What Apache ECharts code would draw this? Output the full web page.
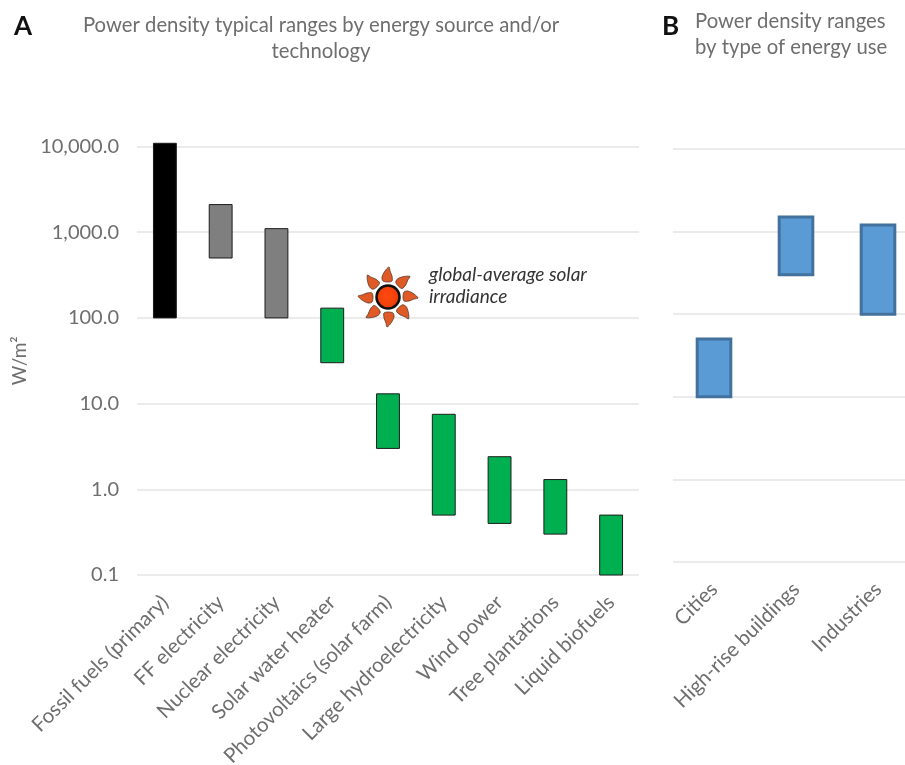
<!DOCTYPE html>
<html>
<head>
<meta charset="utf-8">
<style>html,body{margin:0;padding:0;background:#fff;overflow:hidden}#chart{width:905px;height:765px}</style>
<script src="https://cdn.jsdelivr.net/npm/echarts@6/dist/echarts.min.js"></script>
</head>
<body>
<div id="chart"></div>
<script>
const sources = ['Fossil fuels (primary)', 'FF electricity', 'Nuclear electricity', 'Solar water heater', 'Photovoltaics (solar farm)', 'Large hydroelectricity', 'Wind power', 'Tree plantations', 'Liquid biofuels']
const sourceLow = [100, 500, 100, 30, 3, 0.5, 0.4, 0.3, 0.1]
const sourceHigh = [10900, 2100, 1100, 130, 13, 7.5, 2.4, 1.3, 0.5]
const uses = ['Cities', 'High-rise buildings', 'Industries']
const useLow = [10, 300, 100]
const useHigh = [50, 1500, 1200]

const sourceColors = ['#000000', '#7f7f7f', '#7f7f7f', '#00b050', '#00b050', '#00b050', '#00b050', '#00b050', '#00b050']
const FONT = 'Lato'
const GREY = '#6e6e6e'

function rangeBars(widthRatio, styleFor) {
  return (params, api) => {
    const x = api.value(0)
    const low = api.coord([x, api.value(1)])
    const high = api.coord([x, api.value(2)])
    const w = api.size([1, 0])[0] * widthRatio
    return {
      type: 'rect',
      shape: { x: low[0] - w / 2, y: high[1], width: w, height: low[1] - high[1] },
      style: styleFor(params.dataIndex),
    }
  }
}

function axisX(gridIndex, data) {
  return {
    type: 'category', gridIndex, data,
    axisLine: { show: false }, axisTick: { show: false },
    axisLabel: { rotate: 45, interval: 0, margin: 24, padding: [14, 0, 0, 0], color: GREY, fontFamily: FONT, fontSize: 20.5 },
  }
}

function axisY(gridIndex, showLabels) {
  return {
    type: 'log', logBase: 10, gridIndex, min: 0.1, max: 10000,
    name: showLabels ? 'W/m²' : '', nameLocation: 'middle', nameGap: 94, nameRotate: 90,
    nameTextStyle: { color: GREY, fontFamily: FONT, fontSize: 19 },
    axisLine: { show: false }, axisTick: { show: false },
    splitLine: { show: true, lineStyle: { color: '#e5e5e5', width: 1.5 } },
    axisLabel: {
      show: showLabels, margin: 18, color: GREY, fontFamily: FONT, fontSize: 20,
      formatter: (v) => Number(v).toLocaleString('en-US', { minimumFractionDigits: 1, maximumFractionDigits: 1 }),
    },
  }
}

function titleText(text, left, top) {
  return { text, left, top, textStyle: { color: GREY, fontFamily: FONT, fontSize: 20.3, fontWeight: 'normal', lineHeight: 26 } }
}

const option = {
  animation: false,
  backgroundColor: '#ffffff',
  title: [
    { text: 'A', left: 9, top: 9, textStyle: { color: '#111', fontFamily: FONT, fontSize: 26, fontWeight: 'bold' } },
    { text: 'B', left: 657, top: 9, textStyle: { color: '#111', fontFamily: FONT, fontSize: 26, fontWeight: 'bold' } },
    { ...titleText('Power density typical ranges by energy source and/or\ntechnology', 316, 7), textAlign: 'center' },
    titleText('Power density ranges\nby type of energy use', 690, 3),
  ],
  grid: [
    { left: 137, top: 146.5, width: 502, height: 428.5, outerBoundsMode: 'none' },
    { left: 673, top: 149, width: 246, height: 413, outerBoundsMode: 'none' },
  ],
  xAxis: [axisX(0, sources), axisX(1, uses)],
  yAxis: [axisY(0, true), axisY(1, false)],
  series: [
    {
      type: 'custom', xAxisIndex: 0, yAxisIndex: 0, clip: false,
      encode: { x: 0, y: [1, 2] },
      data: sources.map((_, i) => [i, sourceLow[i], sourceHigh[i]]),
      renderItem: rangeBars(0.41, (i) => ({ fill: sourceColors[i], stroke: '#1c1c1c', lineWidth: 1 })),
    },
    {
      type: 'custom', xAxisIndex: 1, yAxisIndex: 1, clip: false,
      encode: { x: 0, y: [1, 2] },
      data: uses.map((_, i) => [i, useLow[i], useHigh[i]]),
      renderItem: rangeBars(0.41, () => ({ fill: '#5b9bd5', stroke: '#41719c', lineWidth: 3 })),
    },
  ],
}

const chart = echarts.init(document.getElementById('chart'))
chart.setOption(option)

// the sun and its note, kept apart from the axes
const petals = [0, 45, 90, 135, 180, 225, 270, 315].map((deg) => ({
  type: 'polygon',
  shape: { points: [[1, -30], [-3, -26], [-6, -20], [-5, -16], [0, -15], [4, -16], [4, -21], [2, -26]], smooth: 0.3 },
  rotation: -deg * Math.PI / 180,
  style: { fill: '#e05a28', stroke: '#5a3a28', lineWidth: 0.8 },
}))
chart.setOption({
  graphic: [
    {
      type: 'group', x: 388, y: 297,
      children: [
        ...petals,
        {
          type: 'circle', shape: { r: 11.5 },
          style: {
            fill: { type: 'radial', x: 0.45, y: 0.45, r: 0.6, colorStops: [{ offset: 0, color: '#ff4a10' }, { offset: 1, color: '#e83a05' }] },
            stroke: '#111', lineWidth: 2.5,
          },
        },
      ],
    },
    {
      type: 'text', x: 429, y: 264,
      style: { text: 'global-average solar\nirradiance', fill: '#333', font: 'italic 19px Lato', lineHeight: 22 },
    },
  ],
})
</script>
</body>
</html>
